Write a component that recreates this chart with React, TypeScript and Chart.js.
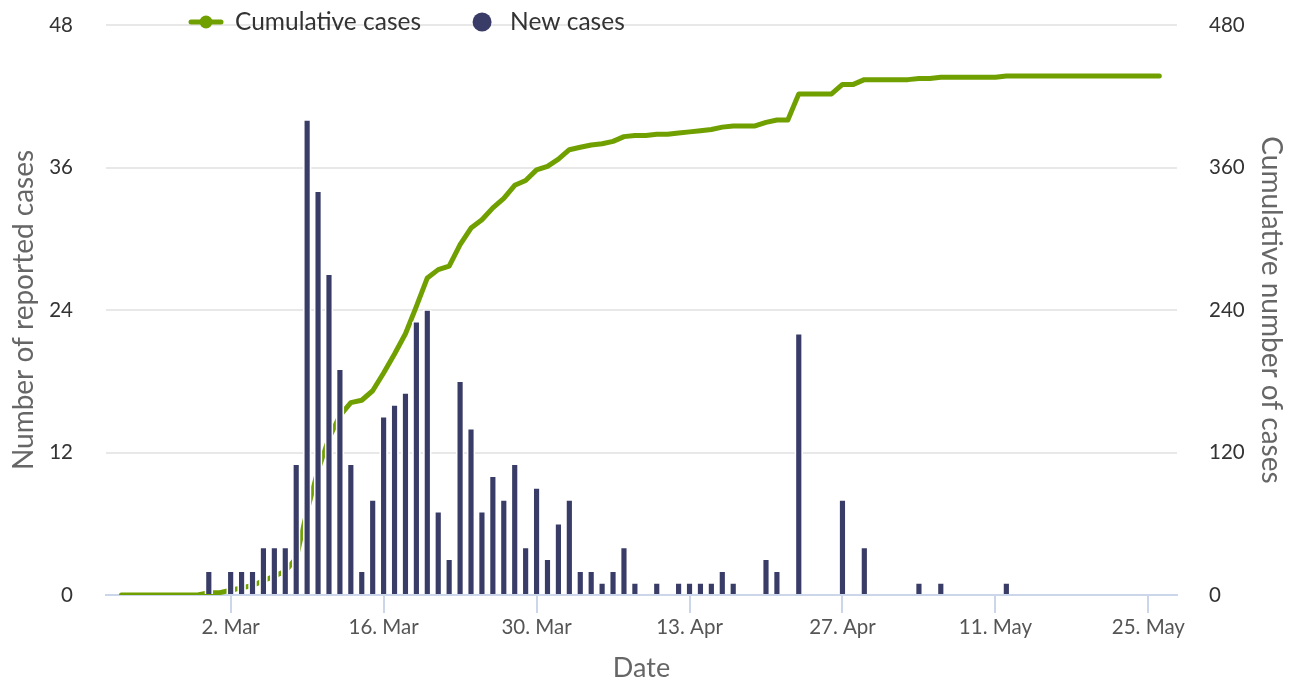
import React, { useEffect, useRef } from 'react';
import { Chart, registerables } from 'chart.js';

Chart.register(...registerables);

// ---- Data ----
const FIRST_DATE = '2020-02-21'; // first day of the daily series
const REFERENCE_DATE = '2020-03-02';

// New cases per day, Feb 21 .. May 26 (2020)
const NEW_CASES = [
  0, 0, 0, 0, 0, 0, 0, 0, 2, 0,
  2, 2, 2, 4, 4, 4, 11, 40, 34, 27,
  19, 11, 2, 8, 15, 16, 17, 23, 24, 7,
  3, 18, 14, 7, 10, 8, 11, 4, 9, 3,
  6, 8, 2, 2, 1, 2, 4, 1, 0, 1,
  0, 1, 1, 1, 1, 2, 1, 0, 0, 3,
  2, 0, 22, 0, 0, 0, 8, 0, 4, 0,
  0, 0, 0, 1, 0, 1, 0, 0, 0, 0,
  0, 1, 0, 0, 0, 0, 0, 0, 0, 0,
  0, 0, 0, 0, 0, 0,
];

// Cumulative cases per day, Feb 21 .. May 26 (2020)
const CUMULATIVE = [
  0, 0, 0, 0, 0, 0, 0, 0, 2, 2,
  4, 6, 8, 12, 16, 20, 31, 71, 105, 132,
  151, 162, 164, 172, 187, 203, 220, 243, 267, 274,
  277, 295, 309, 316, 326, 334, 345, 349, 358, 361,
  367, 375, 377, 379, 380, 382, 386, 387, 387, 388,
  388, 389, 390, 391, 392, 394, 395, 395, 395, 398,
  400, 400, 422, 422, 422, 422, 430, 430, 434, 434,
  434, 434, 434, 435, 435, 436, 436, 436, 436, 436,
  436, 437, 437, 437, 437, 437, 437, 437, 437, 437,
  437, 437, 437, 437, 437, 437,
];

const TICK_DATES = ['2020-03-02', '2020-03-16', '2020-03-30', '2020-04-13', '2020-04-27', '2020-05-11', '2020-05-25'];
const TICK_LABELS = ['2. Mar', '16. Mar', '30. Mar', '13. Apr', '27. Apr', '11. May', '25. May'];

const LEFT_TICKS = [0, 12, 24, 36, 48];
const RIGHT_TICKS = [0, 120, 240, 360, 480];

const SERIES_NAMES = ['Cumulative cases', 'New cases'];
const AXIS_TITLES = { x: 'Date', left: 'Number of reported cases', right: 'Cumulative number of cases' };

// ---- Styles ----
const GREEN = '#70a000';
const NAVY = '#383c66';
const FONT = 'Lato, "Open Sans", sans-serif';

const DAY_MS = 86400000;
const dayOf = (s: string) => (Date.parse(s) - Date.parse(REFERENCE_DATE)) / DAY_MS;

const legendPlugin = {
  id: 'customLegend',
  afterDraw(chart: any) {
    const ctx = chart.ctx as CanvasRenderingContext2D;
    ctx.save();
    const y = 22;
    ctx.font = `24.5px ${FONT}`;
    ctx.textBaseline = 'middle';
    ctx.textAlign = 'left';
    // Cumulative cases symbol: line with circle
    ctx.strokeStyle = GREEN;
    ctx.lineWidth = 5;
    ctx.lineCap = 'round';
    ctx.beginPath();
    ctx.moveTo(191, y);
    ctx.lineTo(221, y);
    ctx.stroke();
    ctx.fillStyle = GREEN;
    ctx.beginPath();
    ctx.arc(206, y, 6.5, 0, Math.PI * 2);
    ctx.fill();
    ctx.fillStyle = '#333333';
    const x1 = 235;
    ctx.fillText(SERIES_NAMES[0], x1, y);
    const w1 = ctx.measureText(SERIES_NAMES[0]).width;
    // New cases symbol: circle
    const cx = x1 + w1 + 61;
    ctx.fillStyle = NAVY;
    ctx.beginPath();
    ctx.arc(cx, y, 9.5, 0, Math.PI * 2);
    ctx.fill();
    ctx.fillStyle = '#333333';
    ctx.fillText(SERIES_NAMES[1], cx + 28, y);
    ctx.restore();
  },
};

export default function App() {
  const ref = useRef<HTMLCanvasElement>(null);

  useEffect(() => {
    const first = dayOf(FIRST_DATE);
    const lineData = CUMULATIVE.map((v, i) => ({ x: first + i, y: v }));
    const barData = NEW_CASES.map((v, i) => ({ x: first + i, y: v === 0 ? null : v }));
    const tickDays = TICK_DATES.map(dayOf);
    const lastDay = first + CUMULATIVE.length - 1;

    const chart = new Chart(ref.current as HTMLCanvasElement, {
      type: 'bar',
      data: {
        datasets: [
          {
            type: 'line',
            label: SERIES_NAMES[0],
            data: lineData as any,
            borderColor: GREEN,
            backgroundColor: GREEN,
            borderWidth: 5,
            pointRadius: 0,
            tension: 0,
            yAxisID: 'yRight',
            order: 2,
            borderCapStyle: 'round',
            borderJoinStyle: 'round',
          },
          {
            type: 'bar',
            label: SERIES_NAMES[1],
            data: barData as any,
            backgroundColor: NAVY,
            borderColor: '#ffffff',
            borderWidth: { left: 1.75, right: 1.75, top: 1, bottom: 0 },
            borderSkipped: false,
            barThickness: 8,
            yAxisID: 'yLeft',
            order: 1,
          },
        ],
      },
      options: {
        animation: false,
        responsive: false,
        devicePixelRatio: 1,
        events: [],
        layout: { padding: { top: 25, left: 0, right: 0, bottom: 0 } },
        plugins: { legend: { display: false }, tooltip: { enabled: false } },
        scales: {
          x: {
            type: 'linear',
            offset: false,
            min: first - 1.41,
            max: lastDay + 1.62,
            afterBuildTicks: (scale: any) => {
              scale.ticks = tickDays.map((v) => ({ value: v }));
            },
            afterFit: (scale: any) => {
              scale.height = 86;
            },
            ticks: {
              autoSkip: false,
              maxRotation: 0,
              padding: 2,
              color: '#555555',
              font: { family: FONT, size: 20.5 },
              callback: (value: any) => {
                const idx = tickDays.indexOf(value);
                return idx >= 0 ? TICK_LABELS[idx] : '';
              },
            },
            grid: {
              display: true,
              offset: false,
              drawOnChartArea: false,
              drawTicks: true,
              tickLength: 18,
              color: '#ccd6eb',
              lineWidth: 2,
            },
            border: { display: true, color: '#ccd6eb', width: 2 },
            title: {
              display: true,
              text: AXIS_TITLES.x,
              color: '#666666',
              font: { family: FONT, size: 27 },
              padding: { top: 0, bottom: -3 },
            },
          },
          yLeft: {
            type: 'linear',
            position: 'left',
            min: 0,
            max: 48,
            afterBuildTicks: (scale: any) => {
              scale.ticks = LEFT_TICKS.map((v) => ({ value: v }));
            },
            afterFit: (scale: any) => {
              scale.width = 106;
              scale.paddingTop = 0;
              scale.paddingBottom = 0;
            },
            ticks: {
              padding: 33,
              color: '#333333',
              font: { family: FONT, size: 20.5 },
            },
            grid: { color: '#e8e8e8', lineWidth: 2, drawTicks: false },
            border: { display: false },
            title: {
              display: true,
              text: AXIS_TITLES.left,
              color: '#666666',
              font: { family: FONT, size: 28 },
              padding: { top: 7, bottom: 0 },
            },
          },
          yRight: {
            type: 'linear',
            position: 'right',
            min: 0,
            max: 480,
            afterBuildTicks: (scale: any) => {
              scale.ticks = RIGHT_TICKS.map((v) => ({ value: v }));
            },
            afterFit: (scale: any) => {
              scale.width = 114;
              scale.paddingTop = 0;
              scale.paddingBottom = 0;
            },
            ticks: {
              padding: 32,
              color: '#333333',
              font: { family: FONT, size: 20.5 },
            },
            grid: { drawOnChartArea: false, drawTicks: false },
            border: { display: false },
            title: {
              display: true,
              text: AXIS_TITLES.right,
              color: '#666666',
              font: { family: FONT, size: 28 },
              padding: { top: 3, bottom: 0 },
            },
          },
        },
      } as any,
      plugins: [legendPlugin],
    });
    return () => chart.destroy();
  }, []);

  return (
    <div style={{ position: 'absolute', left: 0, top: 0, width: 1291, height: 681, background: '#ffffff' }}>
      <canvas ref={ref} width={1291} height={681} style={{ width: 1291, height: 681 }} />
    </div>
  );
}
